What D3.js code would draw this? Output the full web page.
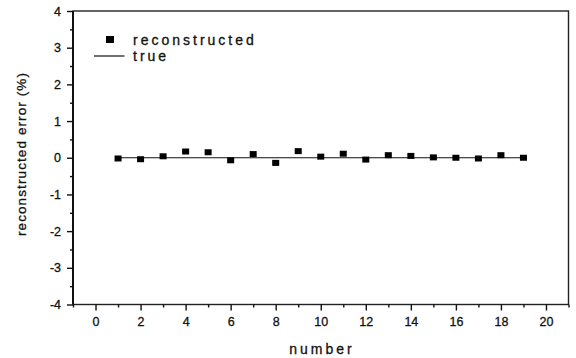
<!DOCTYPE html>
<html><head><meta charset="utf-8">
<script src="https://cdn.jsdelivr.net/npm/d3@7"></script>
<style>body{margin:0;background:#fff}svg{display:block}text{font-family:"Liberation Sans",Arial,sans-serif;fill:#111;stroke:#111;stroke-width:0.3px}</style>
</head><body><svg id="c" width="576" height="358"></svg>
<script>
const numbers = [1,2,3,4,5,6,7,8,9,10,11,12,13,14,15,16,17,18,19];
const reconstructed = [-0.02,-0.04,0.04,0.17,0.15,-0.07,0.10,-0.14,0.18,0.03,0.11,-0.05,0.07,0.05,0.01,0.00,-0.02,0.07,0.00];
const trueValues = [0,0,0,0,0,0,0,0,0,0,0,0,0,0,0,0,0,0,0];
const xTicks = [0,2,4,6,8,10,12,14,16,18,20];
const yTicks = [-4,-3,-2,-1,0,1,2,3,4];
const legendLabels = ["reconstructed","true"];

const svg = d3.select("#c");
const L=73, R=568.5, T=11, B=304.5;
const x = d3.scaleLinear().domain([-1,21]).range([L,R]);
const y = d3.scaleLinear().domain([-4,4]).range([B,T]);
const fmt = d => String(d);

// frame
svg.append("rect").attr("x",L).attr("y",T).attr("width",R-L).attr("height",B-T)
  .attr("fill","none").attr("stroke","#222").attr("stroke-width",1.4);

// x axis
const xMinor = d3.range(-1,22,1).filter(v=>v%2!==0);
const gx = svg.append("g").attr("transform",`translate(0,${B})`);
gx.call(d3.axisBottom(x).tickValues(xMinor).tickSize(3).tickFormat("")).call(g=>g.select(".domain").remove());
gx.append("g").call(d3.axisBottom(x).tickValues(xTicks).tickSize(6).tickPadding(7).tickFormat(fmt))
  .call(g=>g.select(".domain").remove());
gx.selectAll("line").attr("stroke","#111").attr("stroke-width",1.4);
gx.selectAll("text").attr("font-size",12.5).attr("font-family","Liberation Sans, Arial, sans-serif").attr("fill","#111");

// y axis
const yMinor = d3.range(-3.5,4,1);
const gy = svg.append("g").attr("transform",`translate(${L},0)`);
gy.call(d3.axisLeft(y).tickValues(yMinor).tickSize(3).tickFormat("")).call(g=>g.select(".domain").remove());
gy.append("g").call(d3.axisLeft(y).tickValues(yTicks).tickSize(6).tickPadding(6).tickFormat(fmt))
  .call(g=>g.select(".domain").remove());
gy.selectAll("line").attr("stroke","#111").attr("stroke-width",1.4);
gy.selectAll("text").attr("font-size",12.5).attr("font-family","Liberation Sans, Arial, sans-serif").attr("fill","#111");
svg.append("line").attr("x1",L).attr("x2",L).attr("y1",T).attr("y2",B).attr("stroke","#111").attr("stroke-width",2);

// true line
const pts = numbers.map((n,i)=>({n,v:trueValues[i]}));
svg.append("path").datum(pts).attr("fill","none").attr("stroke","#111").attr("stroke-width",1.2)
  .attr("d",d3.line().x(d=>x(d.n)).y(d=>y(d.v)));

// markers
const ms=7;
svg.append("g").selectAll("rect").data(numbers).join("rect")
  .attr("x",(d)=>x(d)-ms/2).attr("y",(d,i)=>y(reconstructed[i])-ms/2+0.5)
  .attr("width",ms).attr("height",ms-1).attr("fill","#000");

// legend
svg.append("rect").attr("x",106).attr("y",36).attr("width",8).attr("height",7).attr("fill","#000");
svg.append("text").attr("x",133).attr("y",45).attr("font-size",14).attr("letter-spacing","3px").text(legendLabels[0]);
svg.append("line").attr("x1",94).attr("x2",124.5).attr("y1",56).attr("y2",56).attr("stroke","#111").attr("stroke-width",1.2);
svg.append("text").attr("x",133).attr("y",61).attr("font-size",14).attr("letter-spacing","3px").text(legendLabels[1]);

// axis titles
svg.append("text").attr("x",322).attr("y",354).attr("text-anchor","middle").attr("font-size",14)
  .attr("letter-spacing","3px").text("number");
svg.append("text").attr("transform","translate(26,154) rotate(-90)").attr("text-anchor","middle")
  .attr("font-size",13.5).attr("letter-spacing","1.1px").text("reconstructed error (%)");
</script></body></html>
